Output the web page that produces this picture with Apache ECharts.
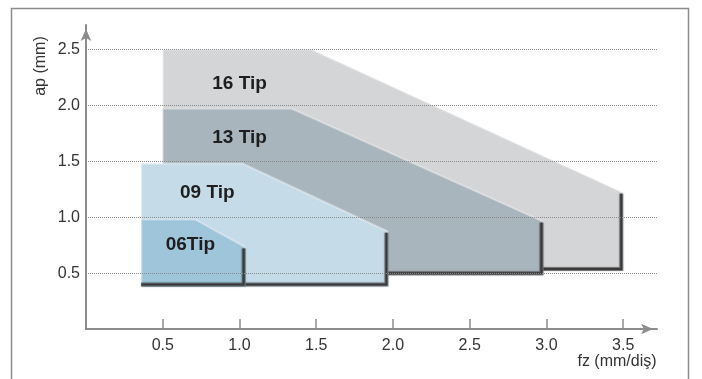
<!DOCTYPE html>
<html>
<head>
<meta charset="utf-8">
<script src="https://cdn.jsdelivr.net/npm/echarts@6/dist/echarts.min.js"></script>
<style>
  html, body { margin: 0; padding: 0; background: #fff; }
  #chart { width: 702px; height: 379px; }
</style>
</head>
<body>
<div id="chart"></div>
<script>
// ---- data ----
const shapeNames = ['16 Tip', '13 Tip', '09 Tip', '06Tip'];
const tip16X = [0.5, 1.47, 3.5, 3.5, 0.5];
const tip16Y = [2.5, 2.5, 1.22, 0.52, 0.52];
const tip13X = [0.5, 1.34, 2.98, 2.98, 0.5];
const tip13Y = [1.97, 1.97, 0.96, 0.48, 0.48];
const tip09X = [0.36, 1.02, 1.97, 1.97, 0.36];
const tip09Y = [1.48, 1.48, 0.87, 0.38, 0.38];
const tip06X = [0.36, 0.71, 1.04, 1.04, 0.36];
const tip06Y = [0.98, 0.98, 0.73, 0.38, 0.38];
const labelX = [1.0, 1.0, 0.79, 0.68];
const labelY = [2.19, 1.71, 1.22, 0.75];
const xTickValues = [0.5, 1.0, 1.5, 2.0, 2.5, 3.0, 3.5];
const yTickValues = [0.5, 1.0, 1.5, 2.0, 2.5];
const xAxisName = 'fz (mm/diş)';
const yAxisName = 'ap (mm)';

// ---- styles ----
const shapeXs = [tip16X, tip13X, tip09X, tip06X];
const shapeYs = [tip16Y, tip13Y, tip09Y, tip06Y];
const fills = ['#d4d5d7', '#a9b5bc', '#c5dbe8', '#9fc5db'];

function makeSeries(i) {
  return {
    type: 'custom',
    name: shapeNames[i],
    coordinateSystem: 'cartesian2d',
    z: 2 + i,
    clip: false,
    silent: true,
    data: [[labelX[i], labelY[i]]],
    renderItem: function (params, api) {
      const xs = shapeXs[i], ys = shapeYs[i];
      const pts = xs.map((x, k) => api.coord([x, ys[k]]));
      const rim = [
        [pts[2][0] - 2, pts[2][1] + 1],
        [pts[3][0] - 2, pts[3][1] - 2],
        [pts[4][0], pts[4][1] - 2]
      ];
      const lp = api.coord([labelX[i], labelY[i]]);
      return {
        type: 'group',
        children: [
          {
            type: 'polygon',
            shape: { points: pts },
            style: { fill: fills[i] }
          },
          {
            type: 'polyline',
            shape: { points: [pts[4], pts[0], pts[1], pts[2]] },
            style: { stroke: 'rgba(255,255,255,0.35)', lineWidth: 2, fill: null }
          },
          {
            type: 'polyline',
            shape: { points: rim },
            style: {
              stroke: 'rgba(70,70,70,0.55)', lineWidth: 4, fill: null,
              shadowBlur: 2, shadowColor: 'rgba(0,0,0,0.4)'
            }
          },
          {
            type: 'polyline',
            shape: { points: rim },
            style: { stroke: '#3a3a3a', lineWidth: 2, fill: null }
          },
          {
            type: 'text',
            x: lp[0], y: lp[1],
            style: {
              text: shapeNames[i],
              fill: '#1e1e1e',
              font: 'bold 19px "Liberation Sans", Arial, sans-serif',
              align: 'center',
              verticalAlign: 'middle'
            }
          }
        ]
      };
    }
  };
}

const chart = echarts.init(document.getElementById('chart'), null, { renderer: 'canvas' });
chart.setOption({
  animation: false,
  backgroundColor: '#ffffff',
  grid: { left: 86, right: 45, top: 25, bottom: 50, containLabel: false },
  xAxis: {
    type: 'value',
    min: 0,
    max: 3.72,
    z: 10,
    axisLine: {
      show: true,
      lineStyle: { color: '#8c8c8c', width: 2 },
      symbol: ['none', 'arrow'],
      symbolSize: [8, 12],
      symbolOffset: [0, -4]
    },
    axisTick: {
      show: true, inside: true, length: 10,
      customValues: xTickValues,
      lineStyle: { color: '#8c8c8c', width: 1.5 }
    },
    axisLabel: {
      customValues: xTickValues,
      color: '#333',
      fontSize: 16,
      fontFamily: '"Liberation Sans", Arial, sans-serif',
      margin: 9,
      formatter: v => v.toFixed(1)
    },
    splitLine: { show: false }
  },
  yAxis: {
    type: 'value',
    min: 0,
    max: 2.72,
    z: 10,
    axisLine: {
      show: true,
      lineStyle: { color: '#8c8c8c', width: 2 },
      symbol: ['none', 'arrow'],
      symbolSize: [8, 12],
      symbolOffset: [0, -4]
    },
    axisTick: { show: false, customValues: yTickValues },
    axisLabel: {
      customValues: yTickValues,
      color: '#333',
      fontSize: 16,
      fontFamily: '"Liberation Sans", Arial, sans-serif',
      margin: 6,
      formatter: v => v.toFixed(1)
    },
    splitLine: {
      show: true,
      lineStyle: { color: '#8a8a8a', width: 1, type: [1, 1] }
    }
  },
  graphic: [
    {
      type: 'rect',
      shape: { x: 11.5, y: 8.5, width: 677, height: 400 },
      style: { fill: null, stroke: '#8c8c8c', lineWidth: 1.5 },
      silent: true
    },
    {
      type: 'text',
      x: 41, y: 66,
      rotation: Math.PI / 2,
      style: {
        text: yAxisName,
        fill: '#333',
        font: '16px "Liberation Sans", Arial, sans-serif',
        align: 'center',
        verticalAlign: 'middle'
      }
    },
    {
      type: 'text',
      x: 617, y: 362,
      style: {
        text: xAxisName,
        fill: '#333',
        font: '16px "Liberation Sans", Arial, sans-serif',
        align: 'center',
        verticalAlign: 'middle'
      }
    }
  ],
  series: [0, 1, 2, 3].map(makeSeries)
});
</script>
</body>
</html>
